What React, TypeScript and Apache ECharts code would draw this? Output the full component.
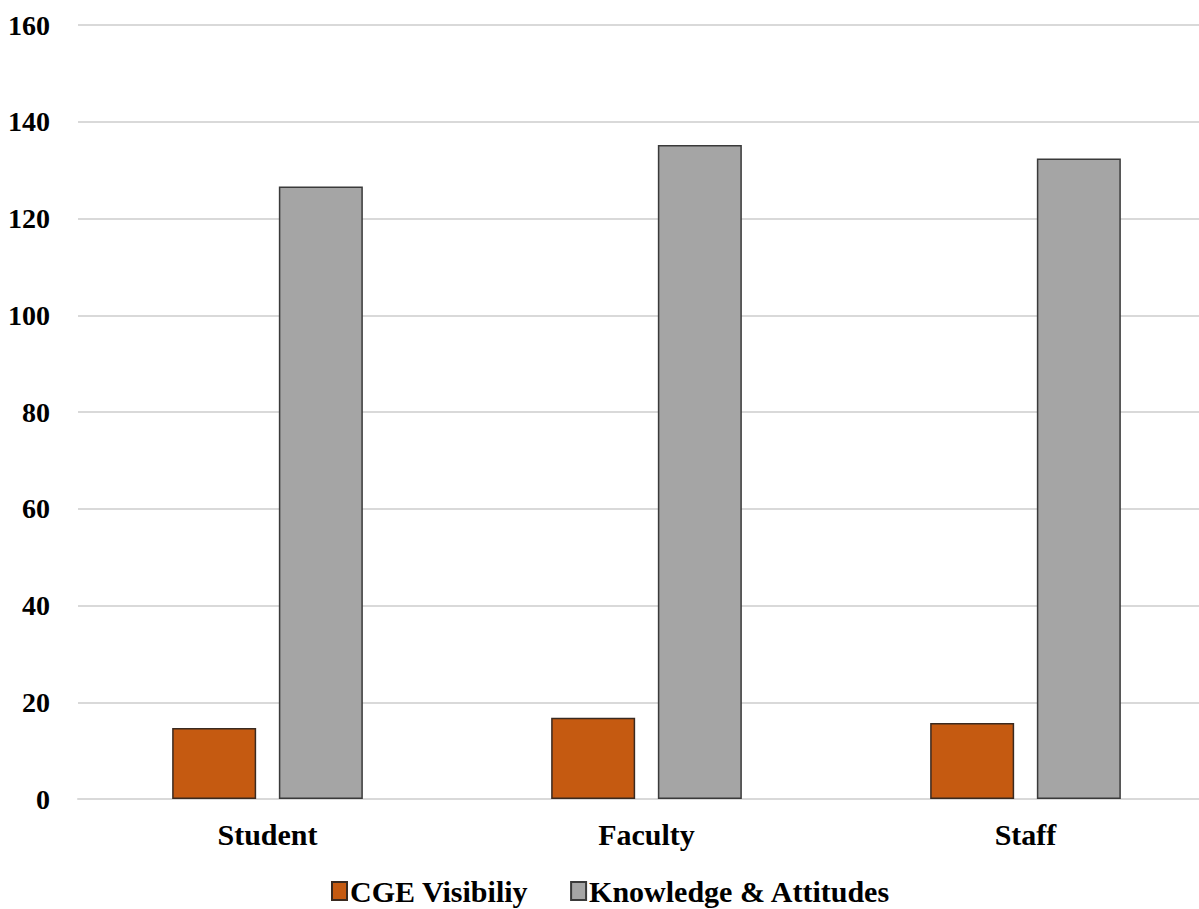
import React, { useEffect, useRef } from "react";
import * as echarts from "echarts";

const categories = ["Student", "Faculty", "Staff"];
const cgeVisibility = [14.7, 16.8, 15.7];
const knowledgeAttitudes = [126.6, 135.2, 132.4];
const seriesNames = ["CGE Visibiliy", "Knowledge & Attitudes"];

const FONT = "'Liberation Serif', 'Times New Roman', serif";

export default function App() {
  const ref = useRef<HTMLDivElement>(null);
  useEffect(() => {
    if (!ref.current) return;
    const chart = echarts.init(ref.current, undefined, { renderer: "svg" });
    chart.setOption({
      animation: false,
      backgroundColor: "#ffffff",
      grid: { left: 78, right: 0, top: 25, bottom: 110, containLabel: false },
      legend: {
        left: 326,
        top: 871,
        itemWidth: 15,
        itemHeight: 18,
        itemGap: 42,
        icon: "rect",
        textStyle: { fontFamily: FONT, fontWeight: "bold", fontSize: 30, color: "#000", padding: [0, 0, 0, -2] },
        data: seriesNames,
      },
      xAxis: {
        type: "category",
        data: categories,
        axisLine: { show: true, lineStyle: { color: "#d9d9d9", width: 2 } },
        axisTick: { show: false },
        axisLabel: { fontFamily: FONT, fontWeight: "bold", fontSize: 30, color: "#000", margin: 20 },
      },
      yAxis: {
        type: "value",
        min: 0,
        max: 160,
        interval: 20,
        axisLine: { show: false },
        axisTick: { show: false },
        splitLine: { lineStyle: { color: "#d9d9d9", width: 2 } },
        axisLabel: { fontFamily: FONT, fontWeight: "bold", fontSize: 28, color: "#000", margin: 28 },
      },
      series: [
        {
          name: seriesNames[0],
          type: "bar",
          data: cgeVisibility,
          barWidth: 84,
          barGap: "27%",
          itemStyle: { color: "#C55A11", borderColor: "#3a2a20", borderWidth: 1.5 },
        },
        {
          name: seriesNames[1],
          type: "bar",
          data: knowledgeAttitudes,
          barWidth: 84,
          barGap: "27%",
          itemStyle: { color: "#A5A5A5", borderColor: "#3a3a3a", borderWidth: 1.5 },
        },
      ],
    });
    return () => chart.dispose();
  }, []);
  return (
    <div style={{ position: "absolute", left: 0, top: 0, width: 1199, height: 909, overflow: "hidden", background: "#fff" }}>
      <div ref={ref} style={{ width: 1215, height: 909 }} />
    </div>
  );
}
